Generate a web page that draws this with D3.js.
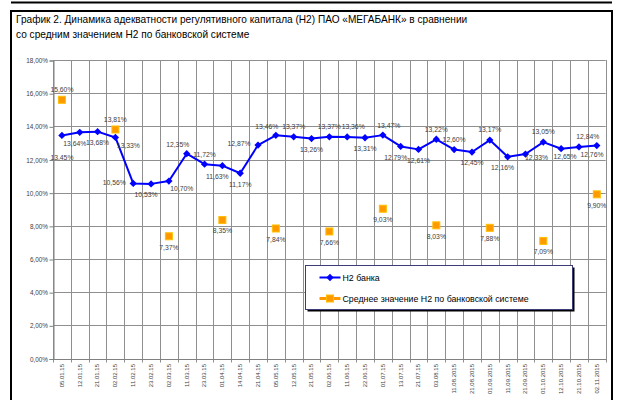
<!DOCTYPE html>
<html>
<head>
<meta charset="utf-8">
<script src="https://cdnjs.cloudflare.com/ajax/libs/d3/7.8.5/d3.min.js"></script>
<style>
  body { margin: 0; background: #fff; }
  svg { display: block; font-family: "Liberation Sans", Arial, sans-serif; }
</style>
</head>
<body>
<script>
// categories (report dates)
var dates = ["05.01.15", "12.01.15", "21.01.15", "02.02.15", "11.02.15", "23.02.15", "02.03.15",
  "11.03.15", "23.03.15", "01.04.15", "14.04.15", "21.04.15", "05.05.15", "12.05.15", "21.05.15",
  "02.06.15", "11.06.15", "22.06.15", "01.07.15", "13.07.15", "21.07.15", "03.08.15", "11.08.2015",
  "21.08.2015", "01.09.2015", "11.09.2015", "21.09.2015", "01.10.2015", "12.10.2015", "21.10.2015",
  "02.11.2015"];

// Н2 банка, %
var bankH2 = [13.45, 13.64, 13.68, 13.33, 10.56, 10.53, 10.70, 12.35, 11.72, 11.63, 11.17, 12.87,
  13.46, 13.37, 13.26, 13.37, 13.36, 13.31, 13.47, 12.79, 12.61, 13.22, 12.60, 12.45, 13.17, 12.16,
  12.33, 13.05, 12.65, 12.76, 12.84];

// среднее Н2 по банковской системе, % (only on month starts)
var systemH2 = [15.60, null, null, 13.81, null, null, 7.37, null, null, 8.35, null, null, 7.84,
  null, null, 7.66, null, null, 9.03, null, null, 8.03, null, null, 7.88, null, null, 7.09, null,
  null, 9.90];

// label placement codes
var bankLabelPos = ["b2", "bl", "b", "br", "l", "bl", "br", "al", "a", "bl", "b", "l", "al", "a",
  "b", "a", "ar", "b", "ar", "bl", "b", "a", "a", "b", "a", "bl", "r", "a", "bR", "br", "al"];
var systemLabelPos = ["a", null, null, "a", null, null, "b", null, null, "b", null, null, "b",
  null, null, "b", null, null, "b", null, null, "b", null, null, "b", null, null, "b", null,
  null, "b"];

var yTicks = [0, 2, 4, 6, 8, 10, 12, 14, 16, 18];

var seriesNames = ["Н2 банка", "Среднее значение Н2 по банковской системе"];
var titleLines = ["График 2. Динамика адекватности регулятивного капитала (Н2) ПАО «МЕГАБАНК» в сравнении",
  "со средним значением Н2 по банковской системе"];

var width = 618, height = 400;
var blue = "#0000ff", orange = "#ff9900", orangeEdge = "#ffc000";
var textColor = "#404040", gridColor = "#8f8f8f";

var offsets = {
  a: [0, -10], b: [0, 11], b2: [0, 22], l: [-19, -1], r: [11, 4], bR: [4, 8],
  al: [-9, -9], ar: [6, -10], bl: [-5, 11], br: [13, 8]
};

var ru = d3.formatLocale({decimal: ",", thousands: " ", grouping: [3], currency: ["", ""]});
var pct = function(v) { return ru.format(".2f")(v) + "%"; };

function translate(a, b) { return "translate(" + a + "," + b + ")"; }

var svg = d3.select("body").append("svg")
  .attr("width", width)
  .attr("height", height);

// frames
svg.append("line").attr("x1", 11).attr("x2", 612).attr("y1", 2.5).attr("y2", 2.5)
  .style("stroke", "#000").style("stroke-width", 2);
svg.append("rect").attr("x", 11).attr("y", 11).attr("width", 601).attr("height", 400)
  .style("fill", "none").style("stroke", "#000").style("stroke-width", 2);

svg.selectAll(".title")
  .data(titleLines)
  .enter()
  .append("text")
  .attr("x", 16)
  .attr("y", function(d, i) { return 23 + i * 15; })
  .style("font-size", "10.1px")
  .style("fill", "#000")
  .text(function(d) { return d; });

var x = d3.scaleBand().domain(dates).range([53, 605.7]).padding(0);
var y = d3.scaleLinear().domain([0, 18]).range([358.5, 60]);
var cx = function(i) { return x(dates[i]) + x.bandwidth() / 2; };

// horizontal grid
svg.append("g")
  .selectAll("line")
  .data(yTicks)
  .enter()
  .append("line")
  .attr("x1", 53).attr("x2", 605.7)
  .attr("y1", function(d) { return Math.round(y(d)) + 0.5; })
  .attr("y2", function(d) { return Math.round(y(d)) + 0.5; })
  .style("stroke", gridColor)
  .style("stroke-width", 1);

// vertical grid at category boundaries, with ticks below axis
var bounds = dates.map(function(d) { return x(d); }).concat([x.range()[1]]);
svg.append("g")
  .selectAll("line")
  .data(bounds)
  .enter()
  .append("line")
  .attr("x1", function(d) { return Math.round(d) + 0.5; })
  .attr("x2", function(d) { return Math.round(d) + 0.5; })
  .attr("y1", y(18))
  .attr("y2", y(0) + 4)
  .style("stroke", gridColor)
  .style("stroke-width", 1);

// y axis
var yAxis = svg.append("g")
  .attr("transform", translate(53.5, 0.5))
  .call(d3.axisLeft(y).tickValues(yTicks).tickSize(4).tickFormat(pct));
yAxis.select(".domain").style("stroke", "#808080");
yAxis.selectAll(".tick line").style("stroke", "#808080");
yAxis.selectAll("text")
  .attr("x", -5.5)
  .style("font-size", "6.4px")
  .style("font-family", "Liberation Sans, Arial, sans-serif")
  .style("fill", textColor);

// x axis labels
var xAxis = svg.append("g")
  .attr("transform", translate(0, y(0) + 0.5))
  .call(d3.axisBottom(x).tickSize(0).tickSizeOuter(0));
xAxis.select(".domain").style("stroke", "#808080");
xAxis.selectAll("text")
  .attr("transform", "rotate(-90)")
  .attr("x", -5)
  .attr("y", 0)
  .attr("dy", "0.32em")
  .style("text-anchor", "end")
  .style("font-size", "6px")
  .style("font-family", "Liberation Sans, Arial, sans-serif")
  .style("fill", textColor);

// bank line
var line = d3.line()
  .x(function(d, i) { return cx(i); })
  .y(function(d) { return y(d); });

svg.append("path")
  .datum(bankH2)
  .attr("d", line)
  .style("fill", "none")
  .style("stroke", blue)
  .style("stroke-width", 2)
  .style("stroke-linejoin", "round");

svg.append("g")
  .selectAll("path")
  .data(bankH2)
  .enter()
  .append("path")
  .attr("d", d3.symbol().type(d3.symbolDiamond2).size(34))
  .attr("transform", function(d, i) { return translate(cx(i), y(d)); })
  .style("fill", blue);

// system markers
var sysPoints = systemH2.map(function(v, i) { return {v: v, i: i, pos: systemLabelPos[i]}; })
  .filter(function(d) { return d.v !== null; });

svg.append("g")
  .selectAll("rect")
  .data(sysPoints)
  .enter()
  .append("rect")
  .attr("x", function(d) { return cx(d.i) - 3.5; })
  .attr("y", function(d) { return y(d.v) - 3.5; })
  .attr("width", 7)
  .attr("height", 7)
  .style("fill", orange)
  .style("stroke", orangeEdge)
  .style("stroke-width", 1);

// data labels
var bankLabels = bankH2.map(function(v, i) { return {v: v, i: i, pos: bankLabelPos[i]}; });
svg.append("g")
  .selectAll("text")
  .data(bankLabels.concat(sysPoints))
  .enter()
  .append("text")
  .attr("x", function(d) { return cx(d.i) + offsets[d.pos][0]; })
  .attr("y", function(d) { return y(d.v) + offsets[d.pos][1]; })
  .attr("dy", "0.35em")
  .style("text-anchor", "middle")
  .style("font-size", "6.8px")
  .style("fill", textColor)
  .text(function(d) { return pct(d.v); });

// legend
var legend = svg.append("g").attr("transform", translate(305.5, 265.5));
legend.append("rect").attr("x", 2).attr("y", 2).attr("width", 267).attr("height", 44)
  .style("fill", "#000");
legend.append("rect").attr("width", 267).attr("height", 44)
  .style("fill", "#fff").style("stroke", "#3c3c78").style("stroke-width", 1);

var items = legend.selectAll(".item")
  .data(seriesNames)
  .enter()
  .append("g")
  .attr("transform", function(d, i) { return translate(0, 12 + i * 21); });

items.append("line")
  .attr("x1", 14).attr("x2", 35).attr("y1", 0).attr("y2", 0)
  .style("stroke", function(d, i) { return i === 0 ? blue : orange; })
  .style("stroke-width", function(d, i) { return i === 0 ? 2 : 3; });

items.filter(function(d, i) { return i === 0; })
  .append("path")
  .attr("d", d3.symbol().type(d3.symbolDiamond2).size(34))
  .attr("transform", translate(24.5, 0))
  .style("fill", blue);

items.filter(function(d, i) { return i === 1; })
  .append("rect")
  .attr("x", 21).attr("y", -3.5).attr("width", 7).attr("height", 7)
  .style("fill", orange).style("stroke", orangeEdge);

items.append("text")
  .attr("x", 37)
  .attr("dy", "0.35em")
  .style("font-size", "8.8px")
  .style("fill", "#000")
  .text(function(d) { return d; });
</script>
</body>
</html>
